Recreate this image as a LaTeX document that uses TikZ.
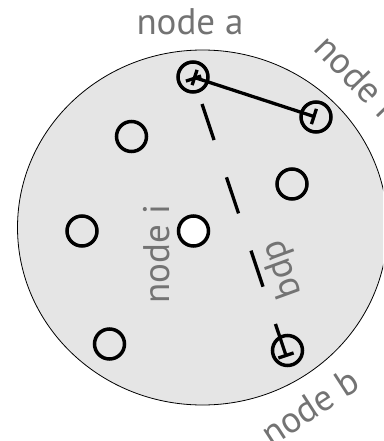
\documentclass[tikz,border=0pt]{standalone}
\usepackage{fontspec}
\setmainfont{PT Sans}
\usetikzlibrary{arrows.meta}
\begin{document}
\begin{tikzpicture}[x=1pt,y=-1pt,
  ring/.style={circle, draw=black, line width=3.5pt, minimum size=30pt, inner sep=0pt},
  lbl/.style={text=black!55, font=\fontsize{37}{44}\selectfont, inner sep=0pt},
  link/.style={line width=3.3pt, {Bar[width=16pt]}-{Bar[width=16pt]}}]
\useasboundingbox (0,0) rectangle (383,441);
\clip (0,0) rectangle (383,441);
\draw[fill=black!10, line width=0.8pt] (202.5,227.5) ellipse [x radius=185pt, y radius=177.5pt];
\node[ring] (a) at (193,77) {};
\node[ring] (r) at (316,117) {};
\node[ring] (c1) at (131.5,136.5) {};
\node[ring] (c2) at (292,184) {};
\node[ring] (c3) at (82,231) {};
\node[ring, fill=white] (i) at (193.5,231) {};
\node[ring] (c4) at (109.5,344) {};
\node[ring] (b) at (287.5,350.5) {};
\coordinate (ea) at (193,77);
\coordinate (er) at (315.5,117);
\coordinate (eb) at (286.5,357);
\draw[link] (ea) -- (er);
\draw[link, dash pattern=on 38pt off 39.3pt, dash phase=51.3pt] (ea) -- (eb);
\node[lbl, anchor=base] (la) at (190,35) {node a};
\node[lbl, rotate=-46] (lr) at (357,77) {node r};
\node[lbl, rotate=33] (lb) at (310,407) {node b};
\node[lbl, rotate=90] (li) at (157,254) {node i};
\node[lbl, rotate=-70] (ld) at (283,269) {dpq};
\end{tikzpicture}
\end{document}
